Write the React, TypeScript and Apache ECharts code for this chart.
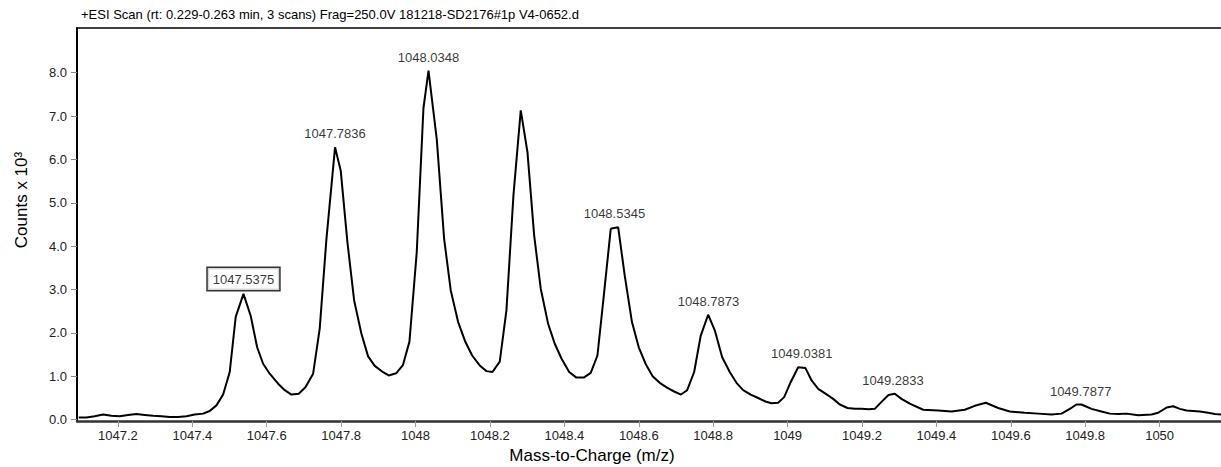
import React, { useEffect, useRef } from "react";
import * as echarts from "echarts";

const titleText = "+ESI Scan (rt: 0.229-0.263 min, 3 scans) Frag=250.0V 181218-SD2176#1p V4-0652.d";
const xName = "Mass-to-Charge (m/z)";
const yName = "Counts x 10\u00B3";

const mz = [
  1047.0946, 1047.1153, 1047.1376, 1047.1602, 1047.1825, 1047.2048, 1047.2274, 1047.2497, 1047.272, 1047.2946,
  1047.3169, 1047.3392, 1047.3618, 1047.3841, 1047.4064, 1047.429, 1047.4467, 1047.4648, 1047.4828, 1047.5005,
  1047.5166, 1047.5375, 1047.557, 1047.5742, 1047.5903, 1047.608, 1047.6306, 1047.6484, 1047.6664, 1047.686,
  1047.704, 1047.7247, 1047.7424, 1047.7605, 1047.7836, 1047.7989, 1047.8169, 1047.8349, 1047.8545, 1047.8725,
  1047.8903, 1047.9102, 1047.9279, 1047.9478, 1047.9661, 1047.9836, 1048.0032, 1048.0212, 1048.0348, 1048.057,
  1048.0768, 1048.0946, 1048.1145, 1048.1341, 1048.1521, 1048.1725, 1048.1906, 1048.2067, 1048.2263, 1048.2443,
  1048.2631, 1048.2828, 1048.3008, 1048.3188, 1048.3365, 1048.3564, 1048.3742, 1048.3922, 1048.4129, 1048.4325,
  1048.4521, 1048.4709, 1048.4889, 1048.507, 1048.5247, 1048.5446, 1048.5623, 1048.5817, 1048.6, 1048.6193,
  1048.6373, 1048.6564, 1048.6758, 1048.6951, 1048.7134, 1048.7301, 1048.7489, 1048.7666, 1048.7865, 1048.8043,
  1048.8242, 1048.8446, 1048.8626, 1048.8806, 1048.901, 1048.9209, 1048.9406, 1048.9567, 1048.9747, 1048.9908,
  1049.0086, 1049.0285, 1049.0481, 1049.0642, 1049.0822, 1049.1018, 1049.1225, 1049.1403, 1049.161, 1049.1806,
  1049.1986, 1049.2182, 1049.2344, 1049.2524, 1049.2712, 1049.2881, 1049.3062, 1049.3285, 1049.3645, 1049.4048,
  1049.4406, 1049.4763, 1049.5032, 1049.5328, 1049.5661, 1049.5973, 1049.6376, 1049.6736, 1049.7094, 1049.7363,
  1049.7586, 1049.7766, 1049.79, 1049.8169, 1049.8438, 1049.8661, 1049.8887, 1049.911, 1049.9424, 1049.9782,
  1049.9962, 1050.0185, 1050.0365, 1050.0543, 1050.0723, 1050.108, 1050.1306, 1050.1484, 1050.1691,
];

const counts = [
  0.05, 0.05, 0.08, 0.12, 0.09, 0.08, 0.11, 0.13, 0.11, 0.09,
  0.08, 0.06, 0.06, 0.08, 0.12, 0.14, 0.2, 0.33, 0.58, 1.1,
  2.37, 2.9, 2.39, 1.67, 1.29, 1.06, 0.83, 0.68, 0.58, 0.6,
  0.75, 1.06, 2.1, 4.17, 6.28, 5.74, 4.09, 2.75, 1.98, 1.46,
  1.24, 1.11, 1.02, 1.07, 1.26, 1.8, 3.86, 7.18, 8.05, 6.47,
  4.17, 2.98, 2.25, 1.79, 1.48, 1.25, 1.12, 1.1, 1.34, 2.52,
  5.17, 7.13, 6.17, 4.25, 3.02, 2.21, 1.75, 1.41, 1.1, 0.97,
  0.97, 1.08, 1.48, 2.94, 4.4, 4.44, 3.32, 2.25, 1.67, 1.27,
  1.0, 0.85, 0.74, 0.65, 0.58, 0.68, 1.1, 1.94, 2.42, 2.06,
  1.44, 1.1, 0.85, 0.68, 0.58, 0.5, 0.42, 0.38, 0.39, 0.52,
  0.87, 1.21, 1.19, 0.91, 0.71, 0.6, 0.48, 0.35, 0.27, 0.25,
  0.25, 0.24, 0.25, 0.41, 0.57, 0.6, 0.48, 0.37, 0.23, 0.21,
  0.19, 0.23, 0.32, 0.39, 0.27, 0.19, 0.16, 0.14, 0.12, 0.14,
  0.25, 0.35, 0.35, 0.25, 0.19, 0.14, 0.13, 0.14, 0.1, 0.12,
  0.16, 0.28, 0.31, 0.25, 0.21, 0.19, 0.16, 0.13, 0.12,
];

const peakMz = [1047.5375, 1047.7836, 1048.0348, 1048.5345, 1048.7873, 1049.0381, 1049.2833, 1049.7877];
const peakCounts = [2.9, 6.28, 8.05, 4.44, 2.42, 1.21, 0.6, 0.35];
const boxedPeak = 0;

const xTicks = [1047.2, 1047.4, 1047.6, 1047.8, 1048, 1048.2, 1048.4, 1048.6, 1048.8, 1049, 1049.2, 1049.4, 1049.6, 1049.8, 1050];
const yTicks = [0, 1, 2, 3, 4, 5, 6, 7, 8];

const FONT = '"Liberation Sans", Arial, Helvetica, sans-serif';

export default function App() {
  const ref = useRef<HTMLDivElement>(null);
  useEffect(() => {
    if (!ref.current) return;
    const chart = echarts.init(ref.current, undefined, { renderer: "svg" });
    const xMin = 1047.09;
    const xMax = 1050.165;
    chart.setOption({
      animation: false,
      backgroundColor: "#fff",
      textStyle: { fontFamily: FONT },
      title: {
        text: titleText,
        left: 76,
        top: 3,
        textStyle: { fontFamily: FONT, fontSize: 13, fontWeight: "normal", color: "#000" },
      },
      grid: { left: 77, right: 0, top: 28, bottom: 46, containLabel: false },
      xAxis: [
        {
          type: "value",
          min: xMin,
          max: xMax,
          axisLine: { show: true, onZero: false, lineStyle: { color: "#333", width: 2.5 } },
          axisTick: { show: true, customValues: xTicks, length: 6, lineStyle: { color: "#999", width: 1 } },
          axisLabel: {
            customValues: xTicks,
            margin: 8,
            color: "#222",
            fontSize: 13,
            fontFamily: FONT,
            formatter: (v: number) => String(Math.round(v * 10) / 10),
          },
          splitLine: { show: false },
        },
        {
          type: "value",
          position: "top",
          min: xMin,
          max: xMax,
          axisLine: { show: true, onZero: false, lineStyle: { color: "#000", width: 1.5 } },
          axisTick: { show: false },
          axisLabel: { show: false },
          splitLine: { show: false },
        },
      ],
      yAxis: {
        type: "value",
        min: -0.03,
        max: 9.03,
        axisLine: { show: true, onZero: false, lineStyle: { color: "#000", width: 2 } },
        axisTick: { show: true, customValues: yTicks, length: 6, lineStyle: { color: "#888", width: 1 } },
        axisLabel: {
          customValues: yTicks,
          margin: 10,
          color: "#222",
          fontSize: 13,
          fontFamily: FONT,
          formatter: (v: number) => v.toFixed(1),
        },
        splitLine: { show: false },
      },
      graphic: [
        {
          type: "text",
          x: 21,
          y: 200,
          rotation: Math.PI / 2,
          style: {
            text: yName,
            fontSize: 17,
            fontFamily: FONT,
            fill: "#000",
            align: "center",
            verticalAlign: "middle",
          },
        },
        {
          type: "text",
          x: 592,
          y: 455,
          style: {
            text: xName,
            fontSize: 17,
            fontFamily: FONT,
            fill: "#000",
            align: "center",
            verticalAlign: "middle",
          },
        },
      ],
      series: [
        {
          type: "line",
          data: mz.map((x, i) => [x, counts[i]]),
          showSymbol: false,
          symbol: "none",
          lineStyle: { color: "#000", width: 2 },
          clip: true,
          z: 2,
        },
        {
          type: "scatter",
          symbolSize: 0,
          silent: true,
          z: 3,
          data: peakMz.map((x, i) => {
            const item: any = { value: [x, peakCounts[i]] };
            if (i === boxedPeak) {
              item.label = {
                borderColor: "#000",
                borderWidth: 1.5,
                padding: [5, 5, 4, 5],
                backgroundColor: "#fff",
                shadowBlur: 0,
                distance: 4,
              };
            }
            return item;
          }),
          label: {
            show: true,
            position: "top",
            distance: 7,
            color: "#000",
            fontSize: 13,
            fontFamily: FONT,
            textBorderWidth: 0,
            formatter: (p: any) => peakMz[p.dataIndex].toFixed(4),
          },
        },
      ],
    });
    return () => chart.dispose();
  }, []);
  return <div ref={ref} style={{ position: "fixed", left: 0, top: 0, width: 1221, height: 467 }} />;
}
